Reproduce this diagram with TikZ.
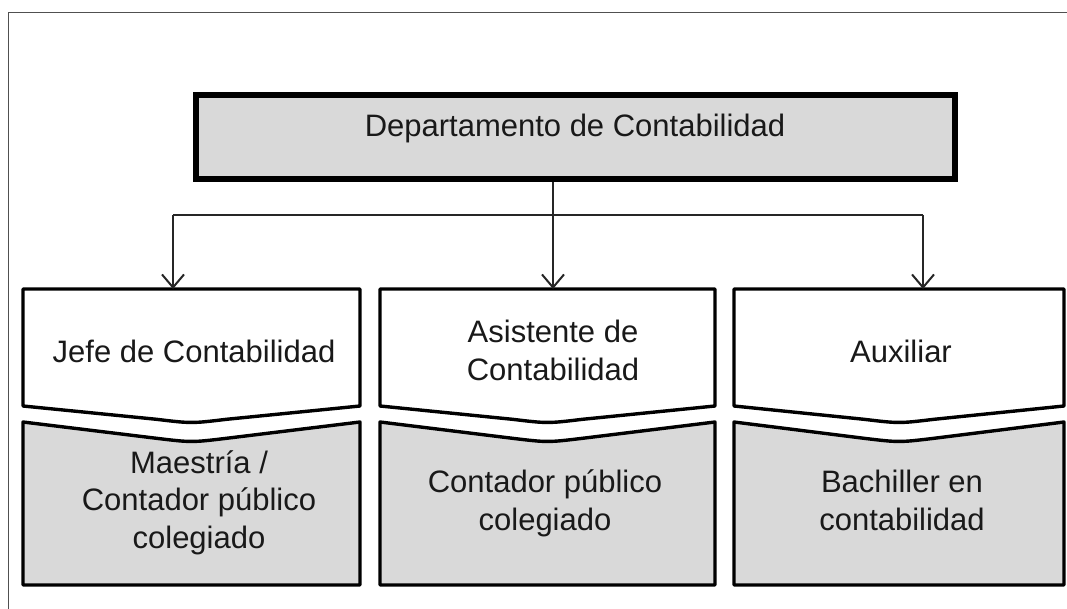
\documentclass[tikz,border=0pt]{standalone}
\usepackage{fontspec}
\setmainfont{Liberation Sans}
\usetikzlibrary{arrows.meta}
\definecolor{boxgrey}{HTML}{D9D9D9}
\definecolor{framegrey}{HTML}{505050}
\begin{document}
\begin{tikzpicture}[x=1pt,y=-1pt,
  lbl/.style={inner sep=0pt,align=center,font=\fontsize{31}{37.5}\selectfont,text=black!90},
  headbox/.style={draw=black,line width=6.5pt,fill=boxgrey,minimum width=759pt,minimum height=84pt,inner sep=0pt},
  rolebox/.style={draw=black,line width=3.4pt,fill=white,line join=round},
  reqbox/.style={draw=black,line width=3.4pt,fill=boxgrey,line join=round},
  conn/.style={line width=2pt,draw=black!85},
  arr/.style={conn,-{Straight Barb[length=13pt,width=22pt,line width=2pt]}}]
\useasboundingbox (0,0) rectangle (1067,609);
% outer frame (open at right and bottom)
\draw[framegrey,line width=1.2pt] (8.5,609) -- (8.5,12.5) -- (1067,12.5);
% head box
\node[headbox] (dept) at (575.5,137) {};
\node[lbl,anchor=base] (depttxt) at (575,137) {Departamento de Contabilidad};
% connector coordinates
\coordinate (h1) at (173,215);
\coordinate (h3) at (923,215);
\coordinate (t1) at (173,289);
\coordinate (t2) at (553,289);
\coordinate (t3) at (923,289);
% role boxes and requirement boxes
\foreach \xa/\xb in {23/360, 380/715, 734/1064}{
  \pgfmathsetmacro{\xc}{(\xa+\xb)/2}
  \pgfmathsetmacro{\xl}{\xc-35}
  \pgfmathsetmacro{\xr}{\xc+35}
  \draw[rolebox] (\xa,289) -- (\xb,289) -- (\xb,406) -- (\xr,419.3)
     .. controls (\xc,423.5) .. (\xl,419.3) -- (\xa,406) -- cycle;
  \draw[reqbox] (\xa,422) -- (\xl,438.3) .. controls (\xc,442.5) .. (\xr,438.3)
     -- (\xb,422) -- (\xb,585) -- (\xa,585) -- cycle;
}
% connectors
\draw[conn] (h1) -- (h3);
\draw[arr] (h1) -- (t1);
\draw[arr] (dept.south -| t2) -- (t2);
\draw[arr] (h3) -- (t3);
% labels (base anchor = baseline of last line)
\node[lbl,anchor=base] (r1) at (194,362) {Jefe de Contabilidad};
\node[lbl,anchor=base] (r2) at (553,380) {Asistente de\\Contabilidad};
\node[lbl,anchor=base] (r3) at (901,362) {Auxiliar};
\node[lbl,anchor=base] (q1) at (199,548) {Maestría /\\Contador público\\colegiado};
\node[lbl,anchor=base] (q2) at (545,530) {Contador público\\colegiado};
\node[lbl,anchor=base] (q3) at (902,530) {Bachiller en\\contabilidad};
\end{tikzpicture}
\end{document}
